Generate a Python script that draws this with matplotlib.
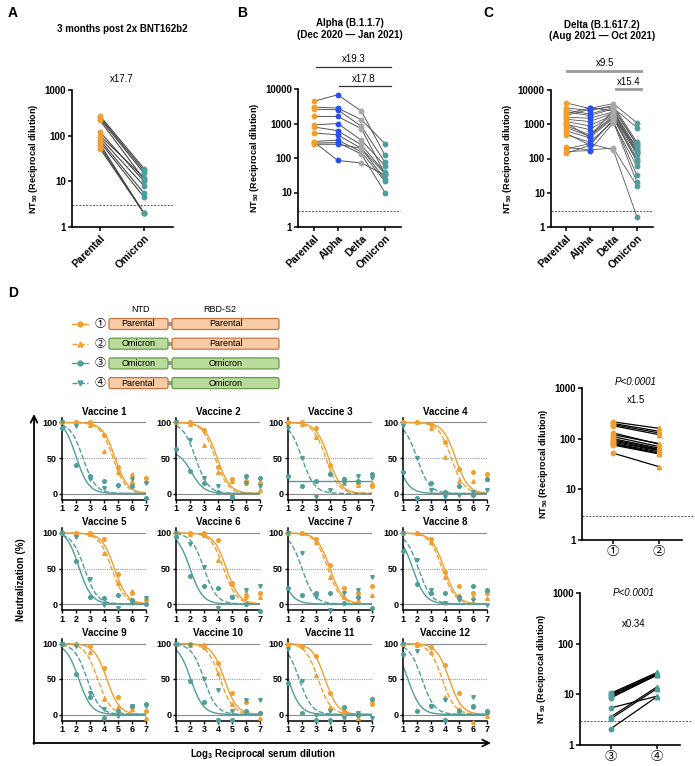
import numpy as np
import matplotlib.pyplot as plt
from matplotlib.patches import FancyBboxPatch, Rectangle
from matplotlib.ticker import NullLocator
import matplotlib.transforms as mtransforms

plt.rcParams['font.family'] = ['Liberation Sans', 'Noto Sans CJK JP', 'DejaVu Sans']
plt.rcParams['mathtext.fontset'] = 'custom'
plt.rcParams['mathtext.rm'] = 'Liberation Sans'
plt.rcParams['mathtext.bf'] = 'Liberation Sans:bold'

W, H = 695, 766
ORANGE = '#F0A030'
TEAL = '#4F9E9C'
BLUE = '#2B50F2'
GREY = '#A8A8A8'

# ---- panel A: 3 months post 2x BNT162b2
a_cats = ['Parental', 'Omicron']
a_parental = [270, 250, 235, 215, 120, 100, 90, 80, 72, 65, 58, 52]
a_omicron = [19, 17, 15, 11, 10, 12, 8, 5.5, 4.5, 2, 2, 2]

# ---- panel B: Alpha cohort
bc_cats = ['Parental', 'Alpha', 'Delta', 'Omicron']
b_parental = [4400, 3000, 2600, 1600, 910, 790, 530, 300, 270, 250, 290]
b_alpha = [6800, 2800, 2500, 1600, 1000, 620, 470, 330, 280, 250, 85]
b_delta = [2300, 1300, 830, 710, 330, 240, 190, 150, 130, 190, 72]
b_omicron = [120, 260, 75, 35, 60, 38, 24, 21, 10, 35, 32]

# ---- panel C: Delta cohort
c_parental = [4200, 3000, 2600, 2300, 2000, 1600, 1400, 1200, 1000, 900,
              800, 650, 550, 500, 210, 190, 160, 140, 1100, 1800]
c_alpha = [2900, 2500, 2000, 1800, 3000, 1500, 1200, 900, 700, 500,
           450, 400, 250, 300, 180, 270, 170, 240, 420, 2700]
c_delta = [4000, 3500, 3000, 2800, 2500, 2300, 2100, 1900, 1800, 1700,
           1600, 1500, 1300, 1200, 200, 180, 1100, 1400, 2600, 3200]
c_omicron = [1100, 300, 800, 250, 200, 180, 160, 150, 130, 100,
             85, 80, 32, 20, 16, 2, 60, 230, 140, 260]

# ---- panel D: neutralization curves, log3 dilution 1..7
dil = [1, 2, 3, 4, 5, 6, 7]
pts1 = [[100, 100, 100, 83, 38, 15, 22], [100, 100, 90, 38, 20, 15, 15],
        [100, 100, 92, 40, 20, 15, 10], [100, 100, 98, 72, 35, 30, 28],
        [100, 100, 100, 92, 42, 15, 5], [100, 100, 100, 90, 30, 10, 15],
        [100, 100, 92, 55, 22, 15, 25], [100, 100, 92, 45, 25, 15, 15],
        [100, 100, 97, 65, 25, 10, 5], [100, 100, 98, 72, 30, 18, 2],
        [100, 97, 82, 30, 5, 0, 15], [100, 100, 95, 70, 30, 10, 2]]
pts2 = [[100, 100, 97, 60, 30, 28, 18], [100, 98, 68, 30, 18, 20, 5],
        [100, 98, 80, 30, 15, 12, 15], [100, 100, 92, 52, 18, 18, 20],
        [100, 98, 98, 72, 30, 18, 8], [100, 98, 97, 62, 28, 15, 10],
        [100, 100, 88, 38, 10, 5, 12], [100, 100, 88, 38, 12, 10, 8],
        [100, 100, 88, 22, 10, 8, -5], [100, 98, 95, 58, 15, 5, -5],
        [100, 97, 55, 10, 0, -5, 20], [100, 98, 88, 25, 8, -10, -2]]
pts3 = [[92, 40, 25, 17, 12, 10, -7], [62, 32, 15, 2, -5, 25, 22],
        [25, 10, 18, 28, 20, 18, 28], [30, -7, 15, 2, 10, -2, 20],
        [100, 60, 10, 8, 12, 5, 0], [95, 40, 25, 22, 10, 0, -10],
        [22, 12, 15, 15, 2, 10, -5], [75, 28, 15, 15, 10, 25, 20],
        [100, 57, 25, -5, 5, 12, 15], [100, 47, 18, -8, -8, 5, 2],
        [45, 2, -8, -8, 10, 0, 22], [85, 5, 12, -8, 5, 12, 5]]
pts4 = [[100, 95, 20, 8, 10, 20, 15], [100, 75, 22, 10, -5, 15, 10],
        [92, 50, -5, 5, 15, 25, 22], [95, 50, 5, -5, -2, 2, 5],
        [100, 95, 35, -2, -5, 2, 8], [100, 85, 52, -5, 10, 20, 25],
        [100, 72, 10, -8, 15, 20, 38], [100, 62, 20, 2, 5, 5, -2],
        [100, 97, 30, 8, -2, 12, 12], [100, 98, 50, 35, 5, 20, 20],
        [92, 47, 0, 5, -5, 2, -5], [100, 90, 12, 20, 5, 25, 2]]
# fitted curve midpoints (log3 NT50) and tops
mid1 = [4.8, 3.95, 3.9, 4.75, 4.75, 4.6, 4.0, 3.95, 4.2, 4.45, 3.65, 4.3]
mid2 = [4.65, 3.8, 3.7, 4.45, 4.55, 4.4, 3.85, 3.8, 3.55, 4.15, 3.15, 3.8]
mid3 = [2.0, 2.1, 99, 0.5, 2.2, 2.0, 0.4, 1.7, 2.2, 2.05, 1.0, 1.35]
mid4 = [2.5, 2.4, 2.0, 2.0, 2.6, 3.0, 2.0, 2.1, 2.8, 3.0, 1.8, 2.35]
top3 = [105, 60, 18, 100, 105, 100, 100, 100, 100, 100, 100, 100]
hill = 2.2

# ---- right panels: NT50 of chimeras
r12_one = [215, 200, 190, 180, 130, 120, 110, 100, 95, 90, 85, 80, 78, 75, 52]
r12_two = [160, 140, 130, 120, 78, 80, 70, 65, 62, 60, 58, 55, 52, 50, 28]
r34_three = [10.5, 10, 9.5, 9, 8.5, 5.4, 3.6, 3.3, 2.1]
r34_four = [27, 26, 25, 24, 24, 9.2, 14, 13, 9]

fig = plt.figure(figsize=(W / 100, H / 100), dpi=100)


def rect(x0, y0, x1, y1):
    return [x0 / W, 1 - y1 / H, (x1 - x0) / W, (y1 - y0) / H]


ov = fig.add_axes([0, 0, 1, 1], zorder=-1)
ov.set_xlim(0, W)
ov.set_ylim(H, 0)
ov.axis('off')

for lab, (lx, ly) in zip('ABCD', [(13, 13), (242, 13), (488, 13), (13, 293)]):
    ov.text(lx, ly, lab, fontsize=10, fontweight='bold', ha='center', va='center')


def nt50_axes(ax, cats, ymax, xl):
    ax.set_yscale('log')
    ax.set_ylim(1, ymax)
    ticks = [10 ** k for k in range(int(np.log10(ymax)) + 1)]
    ax.set_yticks(ticks)
    ax.set_yticklabels([str(t) for t in ticks], fontsize=7, fontweight='bold')
    ax.yaxis.set_minor_locator(NullLocator())
    ax.set_xlim(*xl)
    ax.set_xticks(range(len(cats)))
    ax.set_xticklabels(cats, rotation=45, ha='right', rotation_mode='anchor',
                       fontsize=7.5, fontweight='bold')
    for s in ['top', 'right']:
        ax.spines[s].set_visible(False)
    for s in ['left', 'bottom']:
        ax.spines[s].set_linewidth(1.2)
    ax.tick_params(length=3, width=1.1, pad=1.5)
    ax.set_ylabel(r'NT$_{\mathbf{50}}$ (Reciprocal dilution)', fontsize=6.5,
                  fontweight='bold', labelpad=3)
    ax.axhline(3, color='#555555', lw=0.7, ls=(0, (2, 1.5)), zorder=0)


def paired(ax, series, colors, markers, lc, lw):
    n = len(series[0])
    xs = np.arange(len(series))
    for j in range(n):
        ax.plot(xs, [s[j] for s in series], color=lc, lw=lw, zorder=2)
    for k, s in enumerate(series):
        ax.plot(np.full(n, k), s, ls='none', marker=markers[k], ms=3.2,
                color=colors[k], mec=colors[k], zorder=3, clip_on=False)


# panel A
axA = fig.add_axes(rect(72, 90, 173, 227))
nt50_axes(axA, a_cats, 1000, (-0.64, 1.66))
paired(axA, [a_parental, a_omicron], [ORANGE, TEAL], ['o', 'o'], '#444444', 0.8)
axA.text(0.5, 1.08, 'x17.7', transform=mtransforms.blended_transform_factory(axA.transData, axA.transAxes),
         ha='center', va='center', fontsize=7)
axA.set_title('3 months post 2x BNT162b2', fontsize=7, fontweight='bold', pad=0, y=1.42)

# panel B
axB = fig.add_axes(rect(298, 89, 401, 227))
nt50_axes(axB, bc_cats, 10000, (-0.68, 3.68))
paired(axB, [b_parental, b_alpha, b_delta, b_omicron], [ORANGE, BLUE, GREY, TEAL],
       ['o'] * 4, '#555555', 0.7)
tB = mtransforms.blended_transform_factory(axB.transData, axB.transAxes)
axB.plot([0.1, 3.25], [1.159, 1.159], transform=tB, color='#333333', lw=0.9, clip_on=False)
axB.plot([1.05, 3.25], [1.022, 1.022], transform=tB, color='#333333', lw=0.9, clip_on=False)
axB.text(1.7, 1.217, 'x19.3', transform=tB, ha='center', va='center', fontsize=7)
axB.text(2.1, 1.072, 'x17.8', transform=tB, ha='center', va='center', fontsize=7)
axB.set_title('Alpha (B.1.1.7)\n(Dec 2020 \u2014 Jan 2021)', fontsize=7, fontweight='bold',
              pad=0, y=1.37, linespacing=1.2)

# panel C
axC = fig.add_axes(rect(551, 90, 653, 227))
nt50_axes(axC, bc_cats, 10000, (-0.63, 3.68))
paired(axC, [c_parental, c_alpha, c_delta, c_omicron], [ORANGE, BLUE, GREY, TEAL],
       ['o'] * 4, '#555555', 0.6)
tC = mtransforms.blended_transform_factory(axC.transData, axC.transAxes)
axC.plot([0.04, 3.17], [1.139, 1.139], transform=tC, color='#9A9A9A', lw=2, clip_on=False)
axC.plot([2.1, 3.17], [1.007, 1.007], transform=tC, color='#9A9A9A', lw=2, clip_on=False)
axC.text(1.65, 1.197, 'x9.5', transform=tC, ha='center', va='center', fontsize=7)
axC.text(2.65, 1.058, 'x15.4', transform=tC, ha='center', va='center', fontsize=7)
axC.set_title('Delta (B.1.617.2)\n(Aug 2021 \u2014 Oct 2021)', fontsize=7, fontweight='bold',
              pad=0, y=1.37, linespacing=1.2)

# ---- legend diagram for D
PAR_FILL, PAR_EDGE = '#F7CBA6', '#C8763F'
OMI_FILL, OMI_EDGE = '#B9DB9C', '#6A9B4B'
legend_rows = [('\u2460', 'Parental', 'Parental', ORANGE, 'o', '-'),
               ('\u2461', 'Omicron', 'Parental', ORANGE, '^', '--'),
               ('\u2462', 'Omicron', 'Omicron', TEAL, 'o', '-'),
               ('\u2463', 'Parental', 'Omicron', TEAL, 'v', '--')]
ov.text(140, 309, 'NTD', fontsize=6.5, ha='center', va='center')
ov.text(220, 309, 'RBD-S2', fontsize=6.5, ha='center', va='center')
for k, (num, ntd, rbd, col, mk, ls) in enumerate(legend_rows):
    yy = 324 + 19.7 * k
    ov.plot([72, 88], [yy, yy], color=col, ls=ls, lw=1)
    ov.plot([80], [yy], marker=mk, color=col, ms=3.5)
    ov.text(100, yy, num, fontsize=8, ha='center', va='center')
    ov.add_patch(Rectangle((167, yy - 2), 6, 4, color='#999999', lw=0))
    for (bx0, bx1, name) in [(109, 168, ntd), (172, 279, rbd)]:
        fc, ec = (PAR_FILL, PAR_EDGE) if name == 'Parental' else (OMI_FILL, OMI_EDGE)
        ov.add_patch(FancyBboxPatch((bx0, yy - 5.5), bx1 - bx0, 11,
                                    boxstyle='round,pad=0,rounding_size=2',
                                    fc=fc, ec=ec, lw=0.9))
        ov.text((bx0 + bx1) / 2, yy, name, fontsize=6.5, ha='center', va='center')

# ---- vaccine curve grid
col_left = [62, 176, 288, 403]
xx = np.linspace(1, 7, 120)
curve_specs = [(pts1, mid1, None, ORANGE, 'o', '-'),
               (pts2, mid2, None, ORANGE, '^', '--'),
               (pts3, mid3, top3, TEAL, 'o', '-'),
               (pts4, mid4, None, TEAL, 'v', '--')]
for i in range(12):
    r, c = divmod(i, 4)
    x0 = col_left[c]
    y100 = 422.5 + 110.5 * r
    y0 = y100 + 71
    ax = fig.add_axes(rect(x0, y100 - 7 * 0.71, x0 + 84, y0 + 8.5 * 0.71))
    ax.set_xlim(1, 7)
    ax.set_ylim(-8.5, 107)
    for yv in [100, 0]:
        ax.axhline(yv, color='#8C8C8C', lw=0.8, zorder=0)
    ax.axhline(50, color='#9A9A9A', lw=0.8, ls=(0, (1, 1)), zorder=0)
    for pts, mids, tops, col, mk, ls in curve_specs:
        top = 100 if tops is None else tops[i]
        yy = top / (1 + np.exp(hill * (xx - mids[i])))
        ax.plot(xx, yy, color=col, ls=ls, lw=1, zorder=2)
        ax.plot(dil, pts[i], ls='none', marker=mk, ms=2.6, color=col, zorder=3,
                clip_on=False)
    ax.set_xticks(dil)
    ax.set_xticklabels([str(d) for d in dil], fontsize=6.5, fontweight='bold')
    ax.set_yticks([0, 50, 100])
    ax.set_yticklabels(['0', '50', '100'], fontsize=6.5, fontweight='bold')
    ax.tick_params(length=2.5, width=1, pad=1)
    for s in ['top', 'right']:
        ax.spines[s].set_visible(False)
    for s in ['left', 'bottom']:
        ax.spines[s].set_linewidth(1.1)
    ax.set_title('Vaccine %d' % (i + 1), fontsize=7, fontweight='bold', pad=2)

# big frame with arrows
ov.annotate('', xy=(34, 414), xytext=(34, 744),
            arrowprops=dict(arrowstyle='->', lw=1.3, color='black', shrinkA=0, shrinkB=0,
                            mutation_scale=12))
ov.annotate('', xy=(491, 743), xytext=(33.4, 743),
            arrowprops=dict(arrowstyle='->', lw=1.3, color='black', shrinkA=0, shrinkB=0,
                            mutation_scale=12))
ov.text(21, 580, 'Neutralization (%)', rotation=90, fontsize=7, fontweight='bold',
        ha='center', va='center')
ov.text(263, 754, r'Log$_{\mathbf{3}}$ Reciprocal serum dilution', fontsize=7,
        fontweight='bold', ha='center', va='center')

# ---- right NT50 panels (text offsets in px relative to the 1000 gridline)
right_specs = [((388, 540), ['\u2460', '\u2461'], [r12_one, r12_two], ['o', '^'], ORANGE,
                'x1.5', 582, 6, -12),
               ((593, 745), ['\u2462', '\u2463'], [r34_three, r34_four], ['o', '^'], TEAL,
                'x0.34', 580, 0, -31)]
for (ytop, ybot), cats, series, mks, col, fold, xs, p_off, f_off in right_specs:
    ax = fig.add_axes(rect(xs, ytop, xs + (682 - 582), ybot))
    ax.set_yscale('log')
    ax.set_ylim(1, 1000)
    ax.set_yticks([1, 10, 100, 1000])
    ax.set_yticklabels(['1', '10', '100', '1000'], fontsize=7, fontweight='bold')
    ax.yaxis.set_minor_locator(NullLocator())
    ax.set_xlim(-0.67, 1.5)
    ax.set_xticks([0, 1])
    ax.set_xticklabels(cats, fontsize=9)
    for s in ['top', 'right']:
        ax.spines[s].set_visible(False)
    for s in ['left', 'bottom']:
        ax.spines[s].set_linewidth(1.2)
    ax.tick_params(length=3, width=1.1, pad=1.5)
    ax.set_ylabel(r'NT$_{\mathbf{50}}$ (Reciprocal dilution)', fontsize=6.5,
                  fontweight='bold', labelpad=3)
    ax.plot([-0.67, 1.75], [3, 3], color='#555555', lw=0.7, ls=(0, (2, 1.5)),
            zorder=0, clip_on=False)
    for j in range(len(series[0])):
        ax.plot([0, 1], [series[0][j], series[1][j]], color='black', lw=0.9, zorder=2)
    for k in range(2):
        ax.plot(np.full(len(series[k]), k), series[k], ls='none', marker=mks[k],
                ms=3.2, color=col, zorder=3)
    dec = (ybot - ytop) / 3.0
    ax.text(0.5, 1000 * 10 ** (p_off / dec), 'P<0.0001', ha='center', va='center',
            fontsize=7, style='italic', clip_on=False)
    ax.text(0.5, 1000 * 10 ** (f_off / dec), fold, ha='center', va='center', fontsize=7)

fig.savefig('out.png', dpi=100)
